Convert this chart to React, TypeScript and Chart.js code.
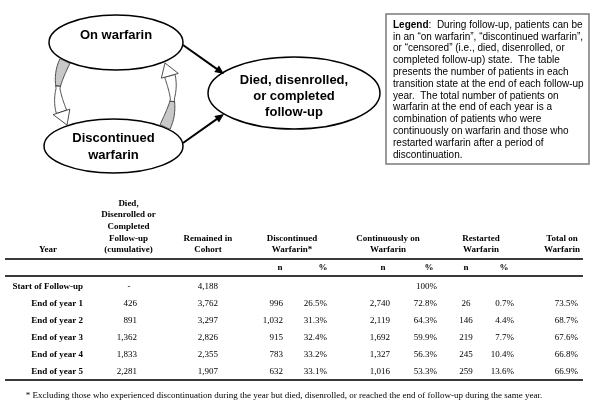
import React, { useEffect, useRef } from 'react';
import { Chart, registerables } from 'chart.js';

Chart.register(...registerables);

// ---------- data ----------
const stateOn = ['On warfarin'];
const stateDisc = ['Discontinued', 'warfarin'];
const stateOut = ['Died, disenrolled,', 'or completed', 'follow-up'];

const legendTitle = 'Legend';
const legendLines = [
  ':  During follow-up, patients can be',
  'in an \u201Con warfarin\u201D, \u201Cdiscontinued warfarin\u201D,',
  'or \u201Ccensored\u201D (i.e., died, disenrolled, or',
  'completed follow-up) state.  The table',
  'presents the number of patients in each',
  'transition state at the end of each follow-up',
  'year.  The total number of patients on',
  'warfarin at the end of each year is a',
  'combination of patients who were',
  'continuously on warfarin and those who',
  'restarted warfarin after a period of',
  'discontinuation.',
];

const headerCols = [
  ['Year'],
  ['Died,', 'Disenrolled or', 'Completed', 'Follow-up', '(cumulative)'],
  ['Remained in', 'Cohort'],
  ['Discontinued', 'Warfarin*'],
  ['Continuously on', 'Warfarin'],
  ['Restarted', 'Warfarin'],
  ['Total on', 'Warfarin'],
];
const subHeaders = ['n', '%', 'n', '%', 'n', '%'];

const rowLabels = ['Start of Follow-up', 'End of year 1', 'End of year 2', 'End of year 3', 'End of year 4', 'End of year 5'];
const diedCum = [null, 426, 891, 1362, 1833, 2281];
const remained = [4188, 3762, 3297, 2826, 2355, 1907];
const discN = [null, 996, 1032, 915, 783, 632];
const discPct = [null, 26.5, 31.3, 32.4, 33.2, 33.1];
const contN = [null, 2740, 2119, 1692, 1327, 1016];
const contPct = [100, 72.8, 64.3, 59.9, 56.3, 53.3];
const restN = [null, 26, 146, 219, 245, 259];
const restPct = [null, 0.7, 4.4, 7.7, 10.4, 13.6];
const totalPct = [null, 73.5, 68.7, 67.6, 66.8, 66.9];

const footnote = '* Excluding those who experienced discontinuation during the year but died, disenrolled, or reached the end of follow-up during the same year.';

const fmtN = (v: number | null) => (v === null ? '' : v.toLocaleString('en-US'));
const fmtP = (v: number | null) => (v === null ? '' : v === 100 ? '100%' : v.toFixed(1) + '%');

const SANS = '"Liberation Sans", Arial, sans-serif';
const SERIF = '"Liberation Serif", "Times New Roman", serif';

const drawPlugin = {
  id: 'figureDraw',
  afterDraw(chart: any) {
    const ctx: CanvasRenderingContext2D = chart.ctx;
    const sx = chart.scales.x;
    const sy = chart.scales.y;
    const X = (v: number) => sx.getPixelForValue(v);
    const Y = (v: number) => sy.getPixelForValue(v);

    ctx.save();
    // ----- ellipses -----
    const ellipse = (cx: number, cy: number, rx: number, ry: number, lines: string[], ty: number, lh: number) => {
      ctx.beginPath();
      ctx.ellipse(X(cx), Y(cy), X(cx + rx) - X(cx), Y(cy + ry) - Y(cy), 0, 0, Math.PI * 2);
      ctx.fillStyle = '#fff';
      ctx.fill();
      ctx.lineWidth = 1.5;
      ctx.strokeStyle = '#000';
      ctx.stroke();
      ctx.fillStyle = '#000';
      ctx.font = 'bold 13px ' + SANS;
      ctx.textAlign = 'center';
      ctx.textBaseline = 'middle';
      const start = ty - ((lines.length - 1) * lh) / 2;
      lines.forEach((l, i) => ctx.fillText(l, X(cx), Y(start + i * lh)));
    };
    ellipse(116, 42.5, 67, 27.5, stateOn, 35, 16);
    ellipse(113.5, 146, 69.5, 27, stateDisc, 146.5, 17);
    ellipse(294, 93, 86, 36, stateOut, 96, 16);

    // ----- straight arrows -----
    const arrow = (x1: number, y1: number, x2: number, y2: number) => {
      const a = Math.atan2(Y(y2) - Y(y1), X(x2) - X(x1));
      const hl = 9, hw = 4;
      ctx.strokeStyle = '#000';
      ctx.lineWidth = 2;
      ctx.beginPath();
      ctx.moveTo(X(x1), Y(y1));
      ctx.lineTo(X(x2) - Math.cos(a) * hl * 0.8, Y(y2) - Math.sin(a) * hl * 0.8);
      ctx.stroke();
      ctx.beginPath();
      ctx.moveTo(X(x2), Y(y2));
      ctx.lineTo(X(x2) - Math.cos(a) * hl - Math.sin(a) * hw, Y(y2) - Math.sin(a) * hl + Math.cos(a) * hw);
      ctx.lineTo(X(x2) - Math.cos(a) * hl + Math.sin(a) * hw, Y(y2) - Math.sin(a) * hl - Math.cos(a) * hw);
      ctx.closePath();
      ctx.fillStyle = '#000';
      ctx.fill();
    };
    arrow(183, 45, 224, 74);
    arrow(183, 143, 224, 114);

    // ----- curved band arrows -----
    const curved = (p0: number[], pc: number[], p1: number[], w: number, grayT: number) => {
      const tEnd = 0.8;
      const B = (t: number) => [
        (1 - t) * (1 - t) * p0[0] + 2 * (1 - t) * t * pc[0] + t * t * p1[0],
        (1 - t) * (1 - t) * p0[1] + 2 * (1 - t) * t * pc[1] + t * t * p1[1],
      ];
      const D = (t: number) => {
        const dx = 2 * (1 - t) * (pc[0] - p0[0]) + 2 * t * (p1[0] - pc[0]);
        const dy = 2 * (1 - t) * (pc[1] - p0[1]) + 2 * t * (p1[1] - pc[1]);
        const l = Math.hypot(dx, dy);
        return [dx / l, dy / l];
      };
      const seg = (ta: number, tb: number, fill: string) => {
        const n = 20;
        const left: number[][] = [], right: number[][] = [];
        for (let i = 0; i <= n; i++) {
          const t = ta + ((tb - ta) * i) / n;
          const b = B(t), d = D(t);
          const hw = (w / 2) * (0.35 + 0.65 * Math.abs(Math.cos(Math.PI * t * 1.15)));
          left.push([b[0] - d[1] * hw, b[1] + d[0] * hw]);
          right.push([b[0] + d[1] * hw, b[1] - d[0] * hw]);
        }
        ctx.beginPath();
        left.forEach((p, i) => (i ? ctx.lineTo(X(p[0]), Y(p[1])) : ctx.moveTo(X(p[0]), Y(p[1]))));
        right.reverse().forEach((p) => ctx.lineTo(X(p[0]), Y(p[1])));
        ctx.closePath();
        ctx.fillStyle = fill;
        ctx.fill();
        ctx.strokeStyle = '#222';
        ctx.lineWidth = 0.8;
        ctx.stroke();
      };
      seg(0, grayT, '#c8c8c8');
      seg(grayT, tEnd, '#fff');
      const b = B(tEnd), d = D(tEnd);
      const hw = w * 0.8;
      ctx.beginPath();
      ctx.moveTo(X(b[0] - d[1] * hw), Y(b[1] + d[0] * hw));
      ctx.lineTo(X(p1[0]), Y(p1[1]));
      ctx.lineTo(X(b[0] + d[1] * hw), Y(b[1] - d[0] * hw));
      ctx.closePath();
      ctx.fillStyle = '#fff';
      ctx.fill();
      ctx.stroke();
    };
    curved([65, 61], [50, 92], [67, 125], 11, 0.4);
    curved([165, 127], [180, 95], [165, 63], 11, 0.4);

    // ----- legend box -----
    ctx.strokeStyle = '#7a7a7a';
    ctx.lineWidth = 1.5;
    ctx.strokeRect(X(386), Y(14), X(589) - X(386), Y(164) - Y(14));
    ctx.fillStyle = '#000';
    ctx.textAlign = 'left';
    ctx.textBaseline = 'middle';
    ctx.font = 'bold 10px ' + SANS;
    ctx.fillText(legendTitle, X(393), Y(25));
    const tw = ctx.measureText(legendTitle).width;
    ctx.font = '10px ' + SANS;
    legendLines.forEach((l, i) => {
      ctx.fillText(l, X(393) + (i === 0 ? tw : 0), Y(25 + i * 11.8));
    });

    // ----- table -----
    ctx.fillStyle = '#000';
    ctx.font = 'bold 9px ' + SERIF;
    ctx.textAlign = 'center';
    const headCx = [48, 128.5, 208, 292, 388, 481, 562];
    headerCols.forEach((lines, c) => {
      lines.forEach((l, i) => {
        const yy = 250 - (lines.length - 1 - i) * 11.7;
        ctx.fillText(l, X(headCx[c]), Y(yy));
      });
    });
    const subX = [280, 323, 383, 429, 466, 504];
    subHeaders.forEach((s, i) => ctx.fillText(s, X(subX[i]), Y(268)));

    ctx.strokeStyle = '#3a3a3a';
    ctx.lineWidth = 2;
    [259, 276, 380].forEach((ly) => {
      ctx.beginPath();
      ctx.moveTo(X(5), Y(ly));
      ctx.lineTo(X(583), Y(ly));
      ctx.stroke();
    });

    rowLabels.forEach((lab, r) => {
      const yy = Y(287 + r * 17);
      ctx.font = 'bold 9px ' + SERIF;
      ctx.textAlign = 'right';
      ctx.fillText(lab, X(83), yy);
      ctx.font = '9px ' + SERIF;
      const cell = (txt: string, x: number, align: CanvasTextAlign) => {
        ctx.textAlign = align;
        ctx.fillText(txt, X(x), yy);
      };
      if (diedCum[r] === null) cell('-', 129, 'center');
      else cell(fmtN(diedCum[r]), 137, 'right');
      cell(fmtN(remained[r]), 218, 'right');
      cell(fmtN(discN[r]), 283, 'right');
      cell(fmtP(discPct[r]), 327, 'right');
      cell(fmtN(contN[r]), 390, 'right');
      cell(fmtP(contPct[r]), 437, 'right');
      cell(fmtN(restN[r]), 466, 'center');
      cell(fmtP(restPct[r]), 514, 'right');
      cell(fmtP(totalPct[r]), 578, 'right');
    });

    ctx.font = '9px ' + SERIF;
    ctx.textAlign = 'center';
    ctx.fillText(footnote, X(284), Y(396));
    ctx.restore();
  },
};

export default function App() {
  const ref = useRef<HTMLCanvasElement | null>(null);
  useEffect(() => {
    if (!ref.current) return;
    const chart = new Chart(ref.current, {
      type: 'scatter',
      data: { datasets: [] },
      options: {
        animation: false,
        responsive: false,
        maintainAspectRatio: false,
        events: [],
        layout: { padding: 0 },
        plugins: { legend: { display: false }, tooltip: { enabled: false }, title: { display: false } },
        scales: {
          x: { type: 'linear', min: 0, max: 600, display: false },
          y: { type: 'linear', min: 0, max: 406, reverse: true, display: false },
        },
      },
      plugins: [drawPlugin],
    });
    return () => chart.destroy();
  }, []);
  return (
    <div style={{ position: 'absolute', left: 0, top: 0, width: 600, height: 406, background: '#fff' }}>
      <canvas ref={ref} width={600} height={406} style={{ width: 600, height: 406, display: 'block' }} />
    </div>
  );
}
